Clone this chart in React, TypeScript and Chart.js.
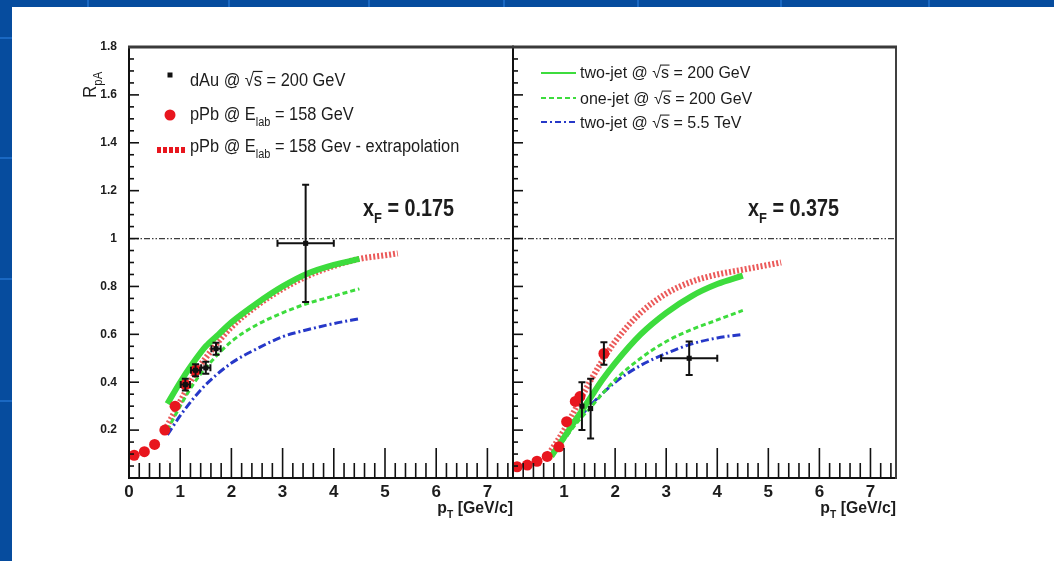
import React, { useEffect, useRef } from 'react';
import { Chart, registerables } from 'chart.js';
Chart.register(...registerables);

const FONT = '"Liberation Sans", Arial, Helvetica, sans-serif';
const TICK_FONT = '"Liberation Sans Narrow", "Liberation Sans", Arial, sans-serif';

// ---- axis ticks ----
const xTickValuesLeft = [0, 1, 2, 3, 4, 5, 6, 7];
const xTickLabelsLeft = ['0', '1', '2', '3', '4', '5', '6', '7'];
const xTickValuesRight = [1, 2, 3, 4, 5, 6, 7];
const xTickLabelsRight = ['1', '2', '3', '4', '5', '6', '7'];
const yTickValues = [0.2, 0.4, 0.6, 0.8, 1, 1.2, 1.4, 1.6, 1.8];
const yTickLabels = ['0.2', '0.4', '0.6', '0.8', '1', '1.2', '1.4', '1.6', '1.8'];

// ---- reference line R = 1 ----
const refLinePt = [0, 7.5];
const refLineR = [1, 1];

// ---- left panel, x_F = 0.175 ----
const pPbPtL = [0.1, 0.3, 0.5, 0.7, 0.9, 1.1, 1.3];
const pPbRL = [0.095, 0.11, 0.14, 0.2, 0.3, 0.39, 0.45];
const pPbEyL = [0, 0, 0, 0, 0, 0, 0];
const dAuPtL = [1.1, 1.3, 1.5, 1.7, 3.45];
const dAuRL = [0.39, 0.45, 0.46, 0.54, 0.98];
const dAuExL = [0.09, 0.09, 0.09, 0.09, 0.55];
const dAuEyL = [0.025, 0.025, 0.025, 0.025, 0.245];
const extrapPtL = [0.7, 0.9, 1.1, 1.3, 1.6, 2, 2.5, 3, 3.5, 4, 4.5, 5, 5.25];
const extrapRL = [0.2, 0.28, 0.36, 0.44, 0.53, 0.63, 0.72, 0.79, 0.845, 0.885, 0.915, 0.93, 0.938];
const twoJetPtL = [0.75, 1, 1.25, 1.5, 1.75, 2, 2.5, 3, 3.5, 4, 4.5];
const twoJetRL = [0.31, 0.4, 0.48, 0.55, 0.6, 0.65, 0.73, 0.8, 0.855, 0.89, 0.915];
const oneJetPtL = [0.75, 1, 1.25, 1.5, 2, 2.5, 3, 3.5, 4, 4.5];
const oneJetRL = [0.2, 0.3, 0.39, 0.46, 0.57, 0.64, 0.69, 0.73, 0.76, 0.79];
const lhcPtL = [0.75, 1, 1.25, 1.5, 2, 2.5, 3, 3.5, 4, 4.5];
const lhcRL = [0.18, 0.26, 0.33, 0.39, 0.48, 0.54, 0.59, 0.62, 0.645, 0.665];

// ---- right panel, x_F = 0.375 ----
const pPbPtR = [0.08, 0.28, 0.47, 0.67, 0.9, 1.05, 1.22, 1.31, 1.78];
const pPbRR = [0.047, 0.054, 0.07, 0.09, 0.13, 0.235, 0.32, 0.34, 0.52];
const pPbEyR = [0, 0, 0, 0, 0, 0, 0, 0, 0.047];
const dAuPtR = [1.35, 1.52, 3.45];
const dAuRR = [0.3, 0.29, 0.5];
const dAuExR = [0, 0, 0.55];
const dAuEyR = [0.1, 0.125, 0.07];
const extrapPtR = [0.7, 1, 1.25, 1.5, 1.75, 2, 2.5, 3, 3.5, 4, 4.5, 5, 5.25];
const extrapRR = [0.1, 0.2, 0.3, 0.4, 0.49, 0.57, 0.69, 0.77, 0.82, 0.85, 0.87, 0.89, 0.9];
const twoJetPtR = [0.75, 1, 1.25, 1.5, 1.75, 2, 2.5, 3, 3.5, 4, 4.5];
const twoJetRR = [0.09, 0.17, 0.25, 0.33, 0.41, 0.48, 0.6, 0.69, 0.76, 0.81, 0.845];
const oneJetPtR = [0.75, 1, 1.25, 1.5, 2, 2.5, 3, 3.5, 4, 4.5];
const oneJetRR = [0.1, 0.16, 0.23, 0.29, 0.41, 0.5, 0.57, 0.62, 0.66, 0.7];
const lhcPtR = [0.75, 1, 1.25, 1.5, 2, 2.5, 3, 3.5, 4, 4.5];
const lhcRR = [0.1, 0.17, 0.24, 0.3, 0.4, 0.47, 0.52, 0.56, 0.585, 0.6];

const RED = '#e8161e';
const GREEN = '#3ddc3d';
const BLUE = '#2638c8';

type Seg = { t: string; sub?: boolean; sqrt?: boolean };

const segFont = (size: number, bold: boolean, sub: boolean) =>
  `${bold ? 'bold ' : ''}${sub ? Math.round(size * 0.65) : size}px ${FONT}`;

function richWidth(ctx: CanvasRenderingContext2D, segs: Seg[], size: number, bold: boolean) {
  let w = 0;
  for (const s of segs) {
    ctx.font = segFont(size, bold, !!s.sub);
    if (s.sqrt) w += ctx.measureText('√').width;
    w += ctx.measureText(s.t).width;
  }
  return w;
}

function drawRich(
  ctx: CanvasRenderingContext2D,
  segs: Seg[],
  x: number,
  y: number,
  size: number,
  bold: boolean,
  sx: number,
  align: 'left' | 'right' = 'left'
) {
  ctx.save();
  ctx.translate(x, y);
  ctx.scale(sx, 1);
  ctx.textBaseline = 'alphabetic';
  ctx.textAlign = 'left';
  ctx.fillStyle = '#1c1c1c';
  let cx = align === 'right' ? -richWidth(ctx, segs, size, bold) : 0;
  for (const s of segs) {
    ctx.font = segFont(size, bold, !!s.sub);
    const dy = s.sub ? size * 0.32 : 0;
    if (s.sqrt) {
      const wr = ctx.measureText('√').width;
      ctx.fillText('√', cx, 0);
      cx += wr;
      const ws = ctx.measureText(s.t).width;
      ctx.fillText(s.t, cx, 0);
      ctx.fillRect(cx - 1, -size * 0.84, ws + 1.5, Math.max(1, size * 0.065));
      cx += ws;
    } else {
      ctx.fillText(s.t, cx, dy);
      cx += ctx.measureText(s.t).width;
    }
  }
  ctx.restore();
}

const pts = (xs: number[], ys: number[]) => xs.map((x, i) => ({ x, y: ys[i] }));

function drawErrors(chart: any, xs: number[], ys: number[], ex: number[], ey: number[]) {
  const { ctx } = chart;
  const sx = chart.scales.x;
  const sy = chart.scales.y;
  ctx.save();
  ctx.strokeStyle = '#111';
  ctx.lineWidth = 2;
  const cap = 3.5;
  for (let i = 0; i < xs.length; i++) {
    const px = sx.getPixelForValue(xs[i]);
    const py = sy.getPixelForValue(ys[i]);
    if (ey[i] > 0) {
      const y1 = sy.getPixelForValue(ys[i] + ey[i]);
      const y2 = sy.getPixelForValue(ys[i] - ey[i]);
      ctx.beginPath();
      ctx.moveTo(px, y1);
      ctx.lineTo(px, y2);
      ctx.moveTo(px - cap, y1);
      ctx.lineTo(px + cap, y1);
      ctx.moveTo(px - cap, y2);
      ctx.lineTo(px + cap, y2);
      ctx.stroke();
    }
    if (ex[i] > 0) {
      const x1 = sx.getPixelForValue(xs[i] - ex[i]);
      const x2 = sx.getPixelForValue(xs[i] + ex[i]);
      ctx.beginPath();
      ctx.moveTo(x1, py);
      ctx.lineTo(x2, py);
      ctx.moveTo(x1, py - cap);
      ctx.lineTo(x1, py + cap);
      ctx.moveTo(x2, py - cap);
      ctx.lineTo(x2, py + cap);
      ctx.stroke();
    }
  }
  ctx.restore();
}

function line(ctx: CanvasRenderingContext2D, x1: number, y1: number, x2: number, y2: number) {
  ctx.beginPath();
  ctx.moveTo(x1, y1);
  ctx.lineTo(x2, y2);
  ctx.stroke();
}

function makePlugin(side: 'L' | 'R') {
  const L = side === 'L';
  return {
    id: 'panel' + side,
    afterDatasetsDraw(chart: any) {
      if (L) {
        drawErrors(chart, pPbPtL, pPbRL, pPbEyL.map(() => 0), pPbEyL);
        drawErrors(chart, dAuPtL, dAuRL, dAuExL, dAuEyL);
      } else {
        drawErrors(chart, pPbPtR, pPbRR, pPbEyR.map(() => 0), pPbEyR);
        drawErrors(chart, dAuPtR, dAuRR, dAuExR, dAuEyR);
      }
    },
    afterDraw(chart: any) {
      const { ctx, chartArea: a } = chart;
      const sx = chart.scales.x;
      const sy = chart.scales.y;
      ctx.save();
      // ticks along the x axis (inside)
      ctx.strokeStyle = '#111';
      ctx.lineWidth = 1.6;
      for (let i = 1; i < 38; i++) {
        const v = i * 0.2;
        const px = sx.getPixelForValue(v);
        const len = i % 5 === 0 ? 30 : 15;
        line(ctx, px, a.bottom, px, a.bottom - len);
      }
      // ticks along the left y axis (inside)
      for (let i = 1; i < 36; i++) {
        const v = i * 0.05;
        const py = sy.getPixelForValue(v);
        const len = i % 4 === 0 ? 10 : 5;
        line(ctx, a.left, py, a.left + len, py);
      }
      // frame
      ctx.lineWidth = 2;
      ctx.strokeStyle = '#111';
      line(ctx, a.left, a.top, a.left, a.bottom + 1);
      line(ctx, a.left - 1, a.bottom, a.right + 1, a.bottom);
      ctx.strokeStyle = L ? '#111' : '#404040';
      line(ctx, a.right, a.top, a.right, a.bottom + 1);
      ctx.strokeStyle = '#3a3a3a';
      ctx.lineWidth = 3;
      line(ctx, a.left - 1, a.top, a.right + 1, a.top);

      // panel label
      drawRich(
        ctx,
        [{ t: 'x' }, { t: 'F', sub: true }, { t: ' = ' + (L ? '0.175' : '0.375') }],
        L ? 363 : 748,
        216,
        23,
        true,
        0.86
      );
      // axis title
      drawRich(ctx, [{ t: 'p' }, { t: 'T', sub: true }, { t: ' [GeV/c]' }], a.right, 513, 17, true, 0.93, 'right');

      if (L) {
        // y title
        ctx.save();
        ctx.translate(96, 98);
        ctx.rotate(-Math.PI / 2);
        drawRich(ctx, [{ t: 'R' }, { t: 'pA', sub: true }], 0, 0, 18, false, 0.95);
        ctx.restore();
        // legend
        ctx.fillStyle = '#111';
        ctx.fillRect(167.5, 72.5, 5, 5);
        ctx.fillStyle = RED;
        ctx.beginPath();
        ctx.arc(170, 115, 5.5, 0, Math.PI * 2);
        ctx.fill();
        ctx.save();
        ctx.strokeStyle = RED;
        ctx.lineWidth = 6;
        ctx.setLineDash([4, 2]);
        line(ctx, 157, 150, 187, 150);
        ctx.restore();
        drawRich(ctx, [{ t: 'dAu @ ' }, { t: 's', sqrt: true }, { t: ' = 200 GeV' }], 190, 86, 18, false, 0.91);
        drawRich(ctx, [{ t: 'pPb @ E' }, { t: 'lab', sub: true }, { t: ' = 158 GeV' }], 190, 120, 18, false, 0.91);
        drawRich(
          ctx,
          [{ t: 'pPb @ E' }, { t: 'lab', sub: true }, { t: ' = 158 Gev - extrapolation' }],
          190,
          152,
          18,
          false,
          0.91
        );
      } else {
        ctx.lineWidth = 2;
        ctx.strokeStyle = GREEN;
        line(ctx, 541, 73, 576, 73);
        ctx.save();
        ctx.setLineDash([5, 3]);
        line(ctx, 541, 98, 576, 98);
        ctx.strokeStyle = BLUE;
        ctx.setLineDash([6, 3, 2, 3]);
        line(ctx, 541, 122, 576, 122);
        ctx.restore();
        drawRich(ctx, [{ t: 'two-jet @ ' }, { t: 's', sqrt: true }, { t: ' = 200 GeV' }], 580, 78, 16, false, 1);
        drawRich(ctx, [{ t: 'one-jet @ ' }, { t: 's', sqrt: true }, { t: ' = 200 GeV' }], 580, 104, 16, false, 1);
        drawRich(ctx, [{ t: 'two-jet @ ' }, { t: 's', sqrt: true }, { t: ' = 5.5 TeV' }], 580, 128, 16, false, 1);
      }
      ctx.restore();
    },
  };
}

function buildConfig(side: 'L' | 'R'): any {
  const L = side === 'L';
  const xVals = L ? xTickValuesLeft : xTickValuesRight;
  const xLabs = L ? xTickLabelsLeft : xTickLabelsRight;
  const curve = { pointRadius: 0, cubicInterpolationMode: 'monotone', fill: false };
  const datasets = [
    {
      label: 'R = 1',
      data: pts(refLinePt, refLineR),
      borderColor: '#3c3c3c',
      borderWidth: 1.2,
      borderDash: [6, 2, 1.5, 2, 1.5, 2],
      pointRadius: 0,
      order: 10,
    },
    {
      label: 'pPb @ Elab = 158 Gev - extrapolation',
      data: L ? pts(extrapPtL, extrapRL) : pts(extrapPtR, extrapRR),
      borderColor: 'rgba(232,60,60,0.85)',
      borderWidth: 6,
      borderDash: [2, 2],
      ...curve,
      order: 6,
    },
    {
      label: 'two-jet @ √s = 5.5 TeV',
      data: L ? pts(lhcPtL, lhcRL) : pts(lhcPtR, lhcRR),
      borderColor: BLUE,
      borderWidth: 3,
      borderDash: [8, 3, 2, 3],
      ...curve,
      order: 5,
    },
    {
      label: 'one-jet @ √s = 200 GeV',
      data: L ? pts(oneJetPtL, oneJetRL) : pts(oneJetPtR, oneJetRR),
      borderColor: GREEN,
      borderWidth: 3,
      borderDash: [5, 3],
      ...curve,
      order: 4,
    },
    {
      label: 'two-jet @ √s = 200 GeV',
      data: L ? pts(twoJetPtL, twoJetRL) : pts(twoJetPtR, twoJetRR),
      borderColor: GREEN,
      borderWidth: 6,
      ...curve,
      order: 3,
    },
    {
      label: 'pPb @ Elab = 158 GeV',
      data: L ? pts(pPbPtL, pPbRL) : pts(pPbPtR, pPbRR),
      showLine: false,
      pointStyle: 'circle',
      pointRadius: 5.5,
      backgroundColor: RED,
      borderColor: RED,
      borderWidth: 0,
      order: 2,
    },
    {
      label: 'dAu @ √s = 200 GeV',
      data: L ? pts(dAuPtL, dAuRL) : pts(dAuPtR, dAuRR),
      showLine: false,
      pointStyle: 'rect',
      pointRadius: 3.6,
      backgroundColor: '#111',
      borderColor: '#111',
      borderWidth: 0,
      order: 1,
    },
  ];
  return {
    type: 'line',
    data: { datasets },
    options: {
      responsive: false,
      animation: false,
      events: [],
      layout: { padding: L ? { left: 0, right: 1054 - 513, top: 47, bottom: 0 } : { left: 513, right: 1054 - 896, top: 47, bottom: 0 } },
      plugins: { legend: { display: false }, tooltip: { enabled: false }, title: { display: false } },
      scales: {
        x: {
          type: 'linear',
          min: 0,
          max: 7.5,
          grid: { display: false },
          border: { display: false },
          afterBuildTicks: (s: any) => {
            s.ticks = xVals.map((v) => ({ value: v }));
          },
          afterFit: (s: any) => {
            s.height = 561 - 478;
          },
          ticks: {
            autoSkip: false,
            maxRotation: 0,
            padding: -4,
            color: '#1c1c1c',
            font: { family: TICK_FONT, size: 17, weight: 'bold' },
            callback: (v: number) => {
              const i = xVals.indexOf(v);
              return i >= 0 ? xLabs[i] : '';
            },
          },
        },
        y: {
          type: 'linear',
          min: 0,
          max: 1.8,
          display: L,
          grid: { display: false },
          border: { display: false },
          afterBuildTicks: (s: any) => {
            s.ticks = yTickValues.map((v) => ({ value: v }));
          },
          afterFit: (s: any) => {
            s.width = L ? 129 : 0;
          },
          ticks: {
            autoSkip: false,
            padding: 4,
            color: '#1c1c1c',
            font: { family: TICK_FONT, size: 12, weight: 'bold' },
            callback: (v: number) => {
              const i = yTickValues.indexOf(v);
              return i >= 0 ? yTickLabels[i] : '';
            },
          },
        },
      },
    },
    plugins: [makePlugin(side)],
  };
}

const bandXs = [87, 228, 368, 503, 637, 780, 928];
const bandYs = [37, 157, 278, 400];

export default function App() {
  const leftRef = useRef<HTMLCanvasElement>(null);
  const rightRef = useRef<HTMLCanvasElement>(null);
  useEffect(() => {
    const l = new Chart(leftRef.current as HTMLCanvasElement, buildConfig('L'));
    const r = new Chart(rightRef.current as HTMLCanvasElement, buildConfig('R'));
    return () => {
      l.destroy();
      r.destroy();
    };
  }, []);
  return (
    <div
      style={{
        position: 'fixed',
        left: 0,
        top: 0,
        width: 1054,
        height: 561,
        background: '#064c9e',
        overflow: 'hidden',
      }}
    >
      {bandXs.map((x) => (
        <div key={'v' + x} style={{ position: 'absolute', left: x, top: 0, width: 2, height: 7, background: '#1a68c2' }} />
      ))}
      {bandYs.map((y) => (
        <div key={'h' + y} style={{ position: 'absolute', left: 0, top: y, width: 12, height: 2, background: '#1a68c2' }} />
      ))}
      <div style={{ position: 'absolute', left: 12, top: 7, right: 0, bottom: 0, background: '#ffffff' }} />
      <canvas ref={leftRef} width={1054} height={561} style={{ position: 'absolute', left: 0, top: 0 }} />
      <canvas ref={rightRef} width={1054} height={561} style={{ position: 'absolute', left: 0, top: 0 }} />
    </div>
  );
}
